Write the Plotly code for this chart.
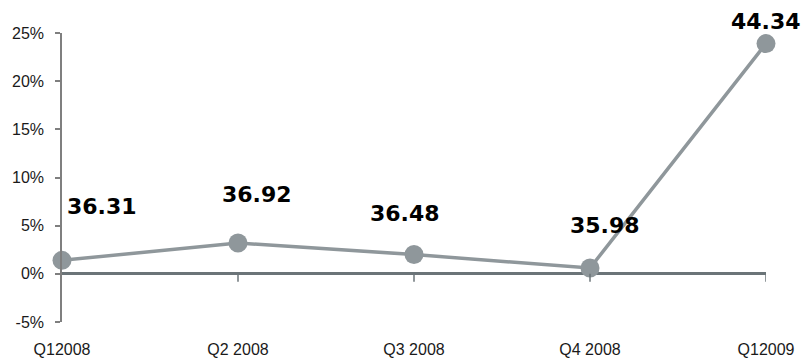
import plotly.graph_objects as go

categories = ["Q12008", "Q2 2008", "Q3 2008", "Q4 2008", "Q12009"]
growth_pct = [1.4, 3.2, 2.0, 0.6, 23.9]
value_labels = ["36.31", "36.92", "36.48", "35.98", "44.34"]
y_ticks = [-5, 0, 5, 10, 15, 20, 25]

label_shift = [(40, 54), (19, 49), (-9, 41), (15, 43), (0, 22)]

gray = "#8f979b"
xpos = list(range(len(categories)))

fig = go.Figure()
fig.add_trace(go.Scatter(
    x=xpos, y=growth_pct, mode="lines+markers",
    line=dict(color=gray, width=3.5),
    marker=dict(color=gray, size=19),
    cliponaxis=False, hoverinfo="skip", showlegend=False,
))

for i, (lbl, (dx, dy)) in enumerate(zip(value_labels, label_shift)):
    fig.add_annotation(
        x=xpos[i], y=growth_pct[i], text=lbl, showarrow=False,
        xshift=dx, yshift=dy,
        font=dict(family="DejaVu Sans", size=22, color="#000000", weight="bold"),
    )

for i in xpos[1:]:
    fig.add_shape(type="line", xref="x", yref="y", x0=i, x1=i,
                  ysizemode="pixel", yanchor=0, y0=0, y1=-8,
                  line=dict(color="#6b7478", width=1.5))

fig.update_xaxes(
    range=[0, 4], tickmode="array", tickvals=xpos, ticktext=categories,
    showgrid=False, zeroline=False, showline=False, automargin=False,
    ticks="outside", ticklen=13, tickcolor="rgba(0,0,0,0)",
    tickfont=dict(family="Liberation Sans", size=16, color="#1a1a1a"),
)
fig.update_yaxes(
    range=[-5, 25], tickmode="array", tickvals=y_ticks,
    ticktext=[f"{v}%" for v in y_ticks],
    showgrid=False, showline=True, linecolor="#7f7f7f", linewidth=1.5,
    ticks="outside", ticklen=5, tickcolor="#7f7f7f", tickwidth=1.5,
    ticklabelstandoff=8, automargin=False,
    zeroline=True, zerolinecolor="#6b7478", zerolinewidth=2.5,
    tickfont=dict(family="Liberation Sans", size=16, color="#1a1a1a"),
)
fig.update_layout(
    width=807, height=361,
    margin=dict(l=62, r=41, t=33, b=39),
    plot_bgcolor="white", paper_bgcolor="white",
)
fig.write_html("out.html")
